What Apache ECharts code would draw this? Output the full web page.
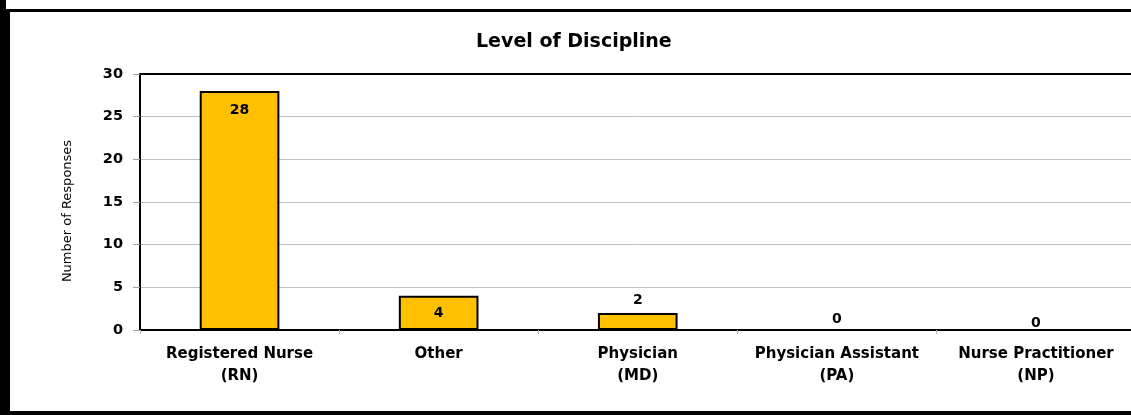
<!DOCTYPE html>
<html>
<head>
<meta charset="utf-8">
<script src="https://cdn.jsdelivr.net/npm/echarts@6/dist/echarts.min.js"></script>
<style>
  html, body { margin: 0; padding: 0; background: #fff; overflow: hidden; }
  /* the plot frame runs slightly past the right edge of the view */
  #chart { width: 1140px; height: 415px; }
</style>
</head>
<body>
<div id="chart"></div>
<script>
// Survey responses by discipline
const categories = ['Registered Nurse\n(RN)', 'Other', 'Physician\n(MD)', 'Physician Assistant\n(PA)', 'Nurse Practitioner\n(NP)'];
const responses = [28, 4, 2, 0, 0];
const yTicks = { min: 0, max: 30, interval: 5 };

// where each value label sits relative to its bar
const labelPositions = ['insideTop', 'inside', 'top', 'top', 'top'];
const labelDistances = [12, 0, 6, 3, -1];

const FONT = '"DejaVu Sans", "Open Sans", sans-serif';

const chart = echarts.init(document.getElementById('chart'), null, { renderer: 'canvas' });

chart.setOption({
  animation: false,
  backgroundColor: '#fff',
  title: {
    text: 'Level of Discipline',
    left: 471,
    top: 28,
    textStyle: { fontFamily: FONT, fontSize: 19, fontWeight: 'bold', color: '#000' }
  },
  grid: {
    left: 140, top: 74, right: 4.5, bottom: 85,
    show: false,
    containLabel: false
  },
  xAxis: [{
    type: 'category',
    data: categories,
    axisLine: { show: true, lineStyle: { color: '#000', width: 2 } },
    axisTick: { show: true, alignWithLabel: false, length: 4, lineStyle: { color: '#b0b0b0' } },
    axisLabel: {
      interval: 0, margin: 13, lineHeight: 22,
      fontFamily: FONT, fontSize: 15, fontWeight: 'bold', color: '#000'
    }
  }, {
    // top edge of the plot frame
    type: 'category',
    data: categories,
    position: 'top',
    axisLine: { show: true, lineStyle: { color: '#000', width: 2 } },
    axisTick: { show: false },
    axisLabel: { show: false }
  }],
  yAxis: {
    type: 'value',
    min: yTicks.min, max: yTicks.max, interval: yTicks.interval,
    name: 'Number of Responses',
    nameLocation: 'middle', nameRotate: 90, nameGap: 66,
    nameTextStyle: { fontFamily: FONT, fontSize: 13, color: '#000', padding: [0, 18, 0, 0] },
    axisLine: { show: true, lineStyle: { color: '#000', width: 2 } },
    axisTick: { show: true, length: 7, lineStyle: { color: '#a0a0a0' } },
    axisLabel: { margin: 17, fontFamily: FONT, fontSize: 14.5, fontWeight: 'bold', color: '#000' },
    splitLine: { show: true, lineStyle: { color: '#c0c0c0', width: 1 } }
  },
  series: [{
    type: 'bar',
    barWidth: '40%',
    data: responses.map((v, i) => ({
      value: v,
      label: { position: labelPositions[i], distance: labelDistances[i] }
    })),
    itemStyle: { color: '#FFC000', borderColor: '#000', borderWidth: 2 },
    label: {
      show: true,
      fontFamily: FONT, fontSize: 14, fontWeight: 'bold', color: '#000'
    }
  }],
  graphic: [
    // outer frame
    { type: 'rect', shape: { x: 0, y: 0, width: 6, height: 415 }, style: { fill: '#000' }, silent: true, z: 100 },
    { type: 'rect', shape: { x: 0, y: 9, width: 10, height: 406 }, style: { fill: '#000' }, silent: true, z: 100 },
    { type: 'rect', shape: { x: 6, y: 9, width: 1134, height: 3 }, style: { fill: '#000' }, silent: true, z: 100 },
    { type: 'rect', shape: { x: 0, y: 411, width: 1140, height: 4 }, style: { fill: '#000' }, silent: true, z: 100 }
  ]
});
</script>
</body>
</html>
